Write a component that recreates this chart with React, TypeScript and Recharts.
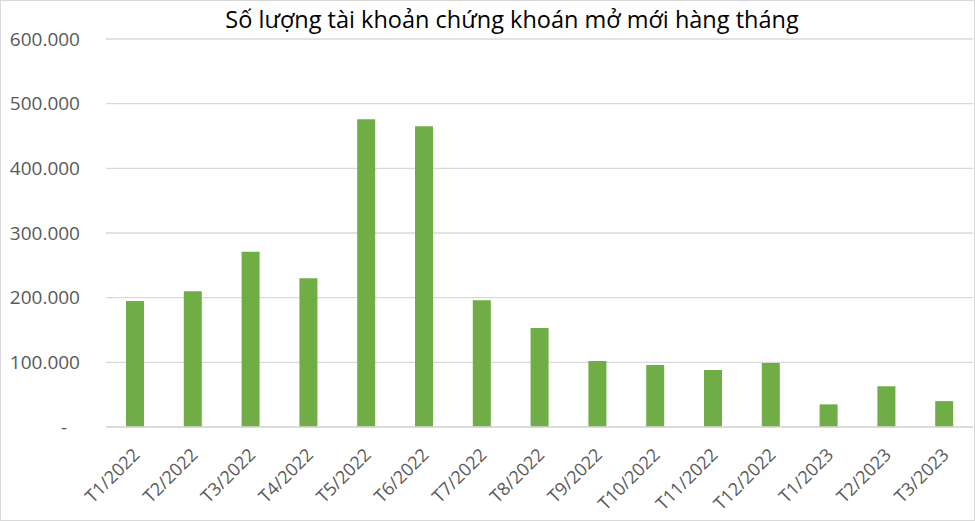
import React from 'react';
import { BarChart, Bar, XAxis, YAxis, CartesianGrid } from 'recharts';

if (typeof document !== 'undefined') {
  document.body.style.margin = '0';
}

const months = [
  'T1/2022', 'T2/2022', 'T3/2022', 'T4/2022', 'T5/2022', 'T6/2022', 'T7/2022', 'T8/2022',
  'T9/2022', 'T10/2022', 'T11/2022', 'T12/2022', 'T1/2023', 'T2/2023', 'T3/2023',
];
const newAccounts = [
  195000, 210000, 271000, 230000, 476000, 465000, 196000, 153000,
  102000, 96000, 88000, 99000, 35000, 63000, 40000,
];
const yTicks = [0, 100000, 200000, 300000, 400000, 500000, 600000];

const TITLE = 'Số lượng tài khoản chứng khoán mở mới hàng tháng';
const FONT = '"Open Sans", "Noto Sans", sans-serif';
const GREY = '#595959';

const chartData = months.map((m, i) => ({ month: m, value: newAccounts[i] }));

const formatThousands = (v: number) => String(v).replace(/\B(?=(\d{3})+(?!\d))/g, '.');

const YTick = (props: any) => {
  const { x, y, payload } = props;
  const isZero = payload.value === 0;
  return (
    <text
      x={isZero ? x - 13 : x}
      y={y}
      dy="0.355em"
      textAnchor="end"
      fill={GREY}
      fontSize={19}
      fontFamily={FONT}
    >
      {isZero ? '-' : formatThousands(payload.value)}
    </text>
  );
};

const XTick = (props: any) => {
  const { x, y, payload } = props;
  return (
    <g transform={`translate(${x + 6},${y + 29})`}>
      <text
        transform="rotate(-45)"
        textAnchor="end"
        fill={GREY}
        fontSize={18}
        fontFamily={FONT}
      >
        {payload.value}
      </text>
    </g>
  );
};

export default function App() {
  return (
    <div style={{ position: 'relative', width: 975, height: 521, background: '#fff' }}>
      <BarChart
        width={975}
        height={521}
        data={chartData}
        margin={{ top: 39, right: 2, bottom: 0, left: 0 }}
      >
        <CartesianGrid vertical={false} stroke="#D9D9D9" strokeWidth={1.3} />
        <XAxis
          dataKey="month"
          height={94}
          interval={0}
          tickLine={false}
          tickSize={0}
          tickMargin={0}
          axisLine={{ stroke: '#D9D9D9', strokeWidth: 1.3 }}
          tick={<XTick />}
        />
        <YAxis
          width={106}
          domain={[0, 600000]}
          ticks={yTicks}
          axisLine={false}
          tickLine={false}
          tickSize={0}
          tickMargin={26}
          tick={<YTick />}
        />
        <Bar dataKey="value" fill="#70AD47" barSize={18} isAnimationActive={false} />
      </BarChart>
      <div
        style={{
          position: 'absolute',
          top: 3,
          left: 49,
          width: 926,
          textAlign: 'center',
          fontFamily: FONT,
          fontSize: 23.5,
          color: '#000',
          whiteSpace: 'nowrap',
        }}
      >
        {TITLE}
      </div>
      <div
        style={{
          position: 'absolute',
          inset: 0,
          border: '1px solid #D9D9D9',
          pointerEvents: 'none',
        }}
      />
    </div>
  );
}
